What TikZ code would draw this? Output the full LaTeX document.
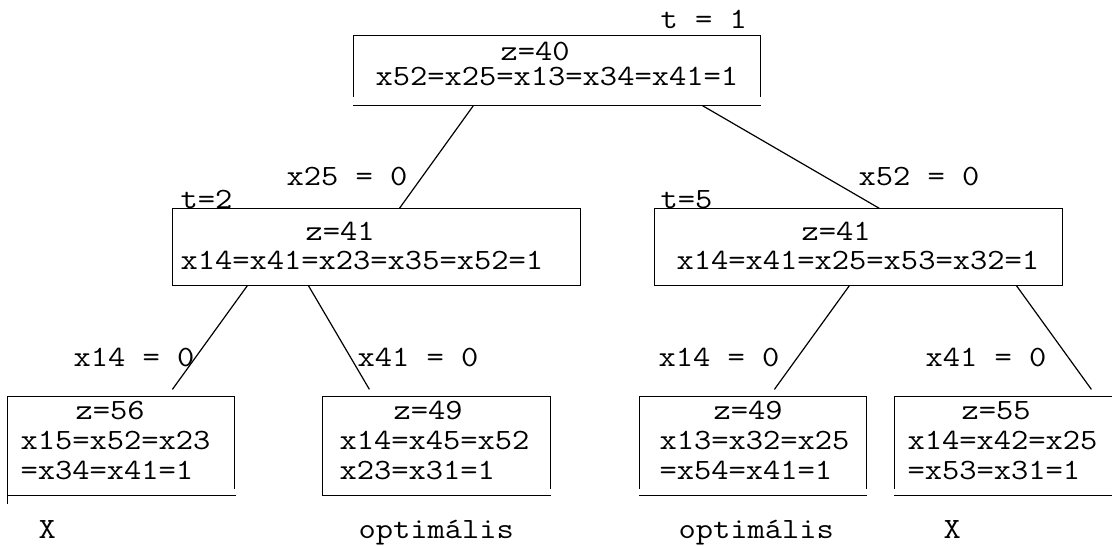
\documentclass[tikz,border=0pt]{standalone}
\usepackage{fontspec}
\newfontfamily\cour{Latin Modern Mono}[FakeStretch=1.14]
\usetikzlibrary{calc}
\begin{document}
\begin{tikzpicture}[x=1pt,y=-1pt,line width=1.2pt,
  txt/.style={anchor=base west,inner sep=0pt,font=\cour\fontsize{29.4}{30}\selectfont},
  boxn/.style={rectangle,inner sep=0pt,draw=none},
  edge/.style={line width=1.2pt}]
\clip (0,0) rectangle (1112,546);
% box nodes (outline drawn separately)
\node[boxn,minimum width=406pt,minimum height=69pt] (top) at (557,70.5) {};
\node[boxn,minimum width=407pt,minimum height=76pt] (midL) at (376.5,247) {};
\node[boxn,minimum width=407pt,minimum height=76pt] (midR) at (858.5,247) {};
\node[boxn,minimum width=226pt,minimum height=98pt] (b1) at (121,446) {};
\node[boxn,minimum width=227pt,minimum height=98pt] (b2) at (436.5,446) {};
\node[boxn,minimum width=226pt,minimum height=98pt] (b3) at (753,446) {};
\node[boxn,minimum width=230pt,minimum height=98pt] (b4) at (1010,446) {};
% outlines
\draw ($(top.south west)+(0,-9)$) -- (top.north west) -- (top.north east) -- ($(top.south east)+(0,-9)$);
\draw (top.south west) -- (top.south east);
\draw (midL.south west) rectangle (midL.north east);
\draw (midR.south west) rectangle (midR.north east);
\draw ($(b1.south west)+(0,8)$) -- (b1.north west) -- (b1.north east) -- ($(b1.south east)+(0,-7)$);
\draw (b1.south west) -- ($(b1.south east)+(1,0)$);
\draw (b2.south west) -- (b2.north west) -- (b2.north east) -- ($(b2.south east)+(0,-7)$);
\draw (b2.south west) -- (b2.south east);
\draw ($(b3.south west)+(0,-7)$) -- (b3.north west) -- (b3.north east) -- ($(b3.south east)+(0,-7)$);
\draw (b3.south west) -- (b3.south east);
\draw ($(b4.south west)+(0,-7)$) -- (b4.north west) -- (b4.north east);
\draw (b4.south west) -- (b4.south east);
% connectors
\draw[edge] ($(top.south west)+(120,0)$) -- ($(midL.north west)+(227,0)$);
\draw[edge] ($(top.south west)+(349,0)$) -- ($(midR.north west)+(225,0)$);
\draw[edge] ($(midL.south west)+(75,0)$) -- ($(b1.north west)+(165,-7)$);
\draw[edge] ($(midL.south west)+(136,0)$) -- ($(b2.north west)+(47,-7)$);
\draw[edge] ($(midR.south west)+(195,0)$) -- ($(b3.north west)+(135,-7)$);
\draw[edge] ($(midR.south west)+(362,0)$) -- ($(b4.north west)+(197,-7)$);
% texts
\node[txt] (t1) at (660,28) {t = 1};
\node[txt] (z0) at (500,60) {z=40};
\node[txt] (r0) at (375,85) {x52=x25=x13=x34=x41=1};
\node[txt] (t2) at (180,208) {t=2};
\node[txt] (z1) at (305,240) {z=41};
\node[txt] (r1) at (180,269) {x14=x41=x23=x35=x52=1};
\node[txt] (t5) at (660,208) {t=5};
\node[txt] (z2) at (801,240) {z=41};
\node[txt] (r2) at (676,269) {x14=x41=x25=x53=x32=1};
\node[txt] (l1) at (286,185) {x25 = 0};
\node[txt] (l2) at (858,185) {x52 = 0};
\node[txt] (l3) at (73,366) {x14 = 0};
\node[txt] (l4) at (357,366) {x41 = 0};
\node[txt] (l5) at (658,366) {x14 = 0};
\node[txt] (l6) at (925,366) {x41 = 0};
\node[txt] (b1a) at (75,419) {z=56};
\node[txt] (b1b) at (20,449) {x15=x52=x23};
\node[txt] (b1c) at (20,479) {=x34=x41=1};
\node[txt] (b2a) at (393,419) {z=49};
\node[txt] (b2b) at (339,449) {x14=x45=x52};
\node[txt] (b2c) at (339,479) {x23=x31=1};
\node[txt] (b3a) at (713,419) {z=49};
\node[txt] (b3b) at (659,449) {x13=x32=x25};
\node[txt] (b3c) at (659,479) {=x54=x41=1};
\node[txt] (b4a) at (961,419) {z=55};
\node[txt] (b4b) at (907,449) {x14=x42=x25};
\node[txt] (b4c) at (907,479) {=x53=x31=1};
\node[txt] (s1) at (38,538) {X};
\node[txt] (s2) at (358,538) {optimális};
\node[txt] (s3) at (678,538) {optimális};
\node[txt] (s4) at (943,538) {X};
\end{tikzpicture}
\end{document}
